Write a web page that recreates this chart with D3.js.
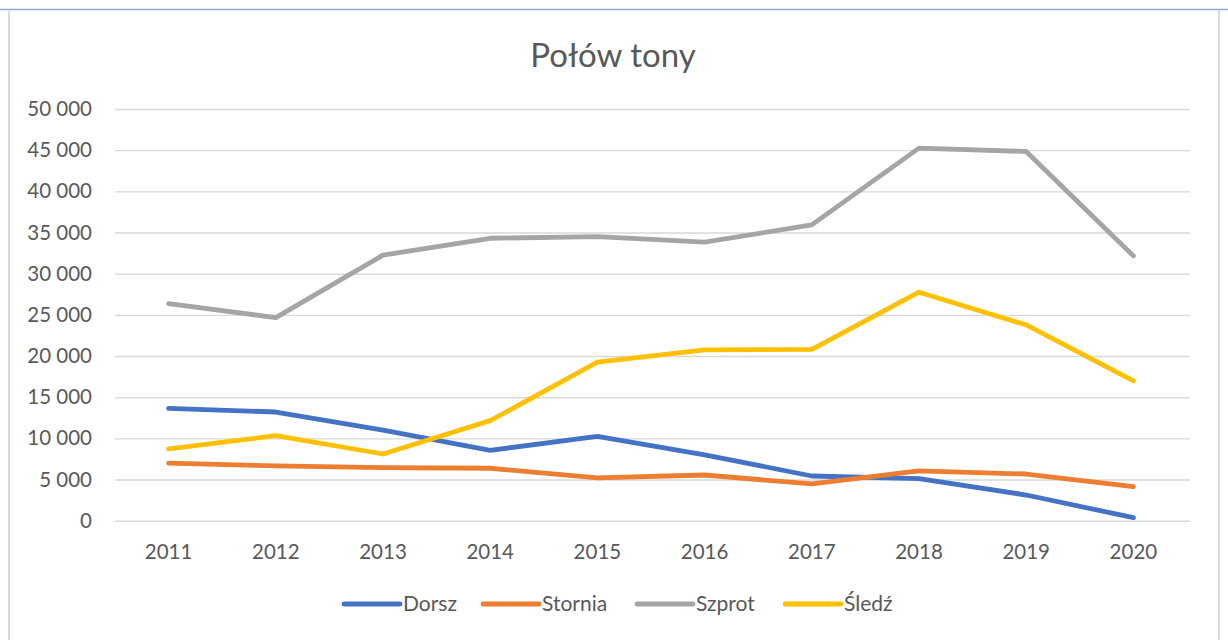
<!DOCTYPE html>
<html><head><meta charset="utf-8">
<script src="https://cdn.jsdelivr.net/npm/d3@7"></script>
<style>html,body{margin:0;padding:0;background:#fff;}svg{display:block;}</style>
</head><body>
<svg id="c" width="1228" height="640"></svg>
<script>
const years = ["2011","2012","2013","2014","2015","2016","2017","2018","2019","2020"];
const dorsz   = [13650, 13200, 11000, 8550, 10250, 8000, 5430, 5100, 3120, 370];
const stornia = [7000, 6650, 6440, 6370, 5190, 5550, 4460, 6040, 5670, 4130];
const szprot  = [26370, 24670, 32250, 34300, 34500, 33830, 35930, 45250, 44840, 32160];
const sledz   = [8710, 10330, 8100, 12150, 19250, 20740, 20800, 27750, 23780, 16970];
const yTicks = [0, 5000, 10000, 15000, 20000, 25000, 30000, 35000, 40000, 45000, 50000];
const seriesNames = ["Dorsz", "Stornia", "Szprot", "Śledź"];
const seriesColors = ["#4472C4", "#ED7D31", "#A5A5A5", "#FFC000"];
const seriesData = [dorsz, stornia, szprot, sledz];

const svg = d3.select("#c");
const font = "Lato, 'Open Sans', sans-serif";
const txt = "#595959";

// frame
svg.append("line").attr("x1",0).attr("x2",1228).attr("y1",9.5).attr("y2",9.5).attr("stroke","#8faadc").attr("stroke-width",1.5);
svg.append("line").attr("x1",9).attr("x2",9).attr("y1",10.5).attr("y2",640).attr("stroke","#d9d9d9").attr("stroke-width",2);
svg.append("line").attr("x1",1219).attr("x2",1219).attr("y1",10.5).attr("y2",640).attr("stroke","#d9d9d9").attr("stroke-width",2);

const x = d3.scaleBand().domain(years).range([115, 1187]);
const y = d3.scaleLinear().domain([0, 50000]).range([520.7, 109]);
const fmt = v => d3.format(",")(v).replace(/,/g, " ");

// grid
const yAxis = d3.axisLeft(y).tickValues(yTicks).tickSize(-(1190-115)).tickFormat(fmt).tickPadding(23);
const gy = svg.append("g").attr("transform","translate(115,0)").call(yAxis);
gy.select(".domain").remove();
gy.selectAll(".tick line").attr("stroke","#d9d9d9").attr("stroke-width",1.4);
gy.selectAll(".tick text").attr("fill",txt).attr("font-family",font).attr("font-size","20.5px");

const xAxis = d3.axisBottom(x).tickSize(0).tickPadding(24);
const gx = svg.append("g").attr("transform","translate(0,520.7)").call(xAxis);
gx.select(".domain").remove();
gx.selectAll(".tick text").attr("fill",txt).attr("font-family",font).attr("font-size","20.5px");

// lines
const line = d3.line().x((d,i)=>x(years[i]) + x.bandwidth()/2).y(d=>y(d));
seriesData.forEach((s,k)=>{
  svg.append("path").datum(s).attr("d",line).attr("fill","none")
    .attr("stroke",seriesColors[k]).attr("stroke-width",4.8)
    .attr("stroke-linecap","round").attr("stroke-linejoin","round");
});

// title
svg.append("text").attr("x",613).attr("y",67).attr("text-anchor","middle")
  .attr("fill",txt).attr("font-family",font).attr("font-size","33px").text("Połów tony");

// legend
const legX = [344, 483, 637, 785];
const lg = svg.append("g");
seriesNames.forEach((n,k)=>{
  lg.append("line").attr("x1",legX[k]).attr("x2",legX[k]+56).attr("y1",604).attr("y2",604)
    .attr("stroke",seriesColors[k]).attr("stroke-width",4.8).attr("stroke-linecap","round");
  lg.append("text").attr("x",legX[k]+59).attr("y",611).attr("fill",txt)
    .attr("font-family",font).attr("font-size","21px").text(n);
});
</script>
</body></html>
